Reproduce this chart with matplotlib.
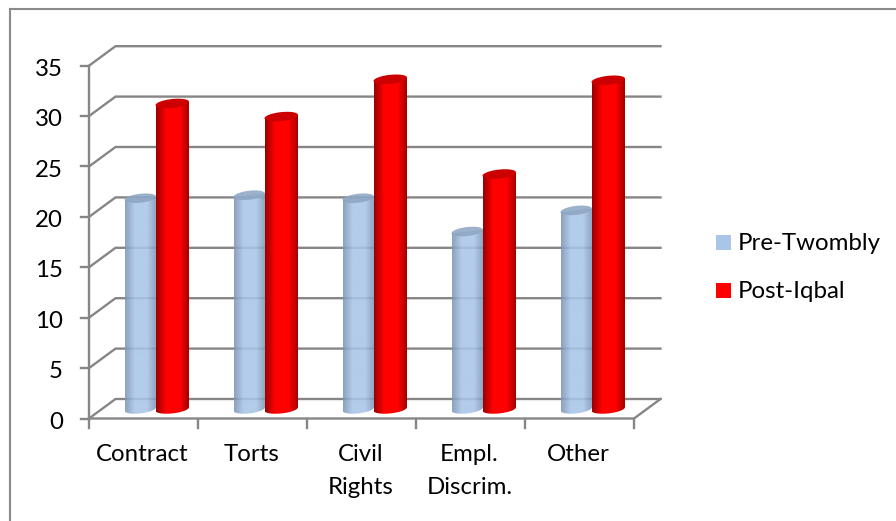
import numpy as np
import matplotlib
matplotlib.use("Agg")
import matplotlib.pyplot as plt
from matplotlib.patches import PathPatch, Polygon, Rectangle
from matplotlib.path import Path
from matplotlib.colors import LinearSegmentedColormap

plt.rcParams['font.family'] = ['Lato', 'DejaVu Sans']

categories = ["Contract", "Torts", "Civil\nRights", "Empl.\nDiscrim.", "Other"]
pre_twombly = [20.8, 21.1, 20.8, 17.5, 19.6]
post_iqbal = [30.2, 28.9, 32.6, 23.2, 32.5]
y_ticks = [0, 5, 10, 15, 20, 25, 30, 35]

W, H = 896, 521
grid_col = "#868686"
text_col = "#000000"

fig = plt.figure(figsize=(W / 100, H / 100), dpi=100, facecolor="white")

# axes box = front plane of the fake 3d chart
x0, x1 = 89, 634
y0, y1 = 418.5, 65.7
ax = fig.add_axes([x0 / W, 1 - y0 / H, (x1 - x0) / W, (y0 - y1) / H])
ax.set_xlim(0, len(categories))
ax.set_ylim(0, 35)
ax.axis("off")

px_x = (x1 - x0) / len(categories)
px_y = (y0 - y1) / 35
dx = 26.5 / px_x   # depth offset, data units
dy = 19.5 / px_y

# outer chart frame
for xs, ys in [((9.5, 9.5), (521, 9)), ((9.5, 896), (9, 9))]:
    fig.add_artist(plt.Line2D([v / W for v in xs], [1 - v / H for v in ys],
                              color="#8a8a8a", lw=1.5))

n = len(categories)
lw = 1.7
for t in y_ticks:
    ax.plot([0, dx, n + dx], [t, t + dy, t + dy], color=grid_col, lw=lw, clip_on=False,
            solid_joinstyle="miter", zorder=1)
    ax.plot([-0.075, 0], [t, t], color=grid_col, lw=lw, clip_on=False, zorder=1)
ax.plot([0, 0], [0, 35], color=grid_col, lw=lw, clip_on=False, zorder=1)
ax.plot([0, n, n + dx], [0, 0, dy], color=grid_col, lw=lw, clip_on=False, zorder=1)
for i in range(n + 1):
    ax.plot([i, i], [0, -0.9], color=grid_col, lw=lw, clip_on=False, zorder=1)


def cylinder(xl, xr, value, side, mid, top, alpha, z):
    # one bar: body with a horizontal shade, slightly tilted lid on top
    rx = (xr - xl) / 2
    ry = 4.5 / px_y
    tilt = 1.7 / px_y
    yb = 0.95
    cx = (xl + xr) / 2
    yt = value + 1.05
    ts = np.linspace(np.pi, 2 * np.pi, 40)
    low = np.column_stack([cx + rx * np.cos(ts), yb + ry * np.sin(ts) + tilt * np.cos(ts)])
    verts = np.vstack([low, [[xr, yt + tilt], [xl, yt - tilt]], low[:1]])
    path = Path(verts)
    cmap = LinearSegmentedColormap.from_list("c", [(0, side), (0.3, mid), (0.7, mid), (1, side)])
    im = ax.imshow(np.linspace(0, 1, 64)[None, :], cmap=cmap, aspect="auto",
                   extent=[xl, xr, yb - ry - tilt, yt + tilt], alpha=alpha, zorder=z,
                   interpolation="bilinear")
    im.set_clip_path(PathPatch(path, transform=ax.transData))
    ts = np.linspace(0, 2 * np.pi, 60)
    lid = np.column_stack([cx + rx * np.cos(ts), yt + ry * np.sin(ts) + tilt * np.cos(ts)])
    ax.add_patch(Polygon(lid, closed=True, facecolor=top, edgecolor="none", alpha=alpha,
                         zorder=z + 0.1, clip_on=False))


bar_l = (124.5 - x0) / px_x
bar_w = (156 - 124.5) / px_x
red_l = (155.5 - x0) / px_x
red_w = (189 - 155.5) / px_x
for i in range(n):
    cylinder(i + bar_l, i + bar_l + bar_w, pre_twombly[i], "#7d95b5", "#a9c5e8", "#8ea6c4", 0.88, 3)
    cylinder(i + red_l, i + red_l + red_w, post_iqbal[i], "#9c0000", "#ff0000", "#cc0000", 1, 4)
ax.set_xlim(0, n)
ax.set_ylim(0, 35)

fs = 17.3
for t in y_ticks:
    ax.text(-0.24, t - 0.35, str(t), ha="right", va="center", fontsize=fs, color=text_col, clip_on=False)
for i, c in enumerate(categories):
    ax.text(i + 0.49, -2.5, c, ha="center", va="top", fontsize=fs, color=text_col,
            linespacing=1.72, clip_on=False)

# legend
for name, col, yy in [("Pre-Twombly", "#a9c5e8", 242.5), ("Post-Iqbal", "#ff0000", 290.5)]:
    fig.add_artist(Rectangle((716 / W, 1 - (yy + 7.5) / H), 15 / W, 15 / H, facecolor=col,
                             edgecolor="none", transform=fig.transFigure))
    fig.text(738 / W, 1 - (yy + 1.5) / H, name, ha="left", va="center", fontsize=fs, color=text_col)

fig.savefig("out.png", dpi=100, facecolor="white")
